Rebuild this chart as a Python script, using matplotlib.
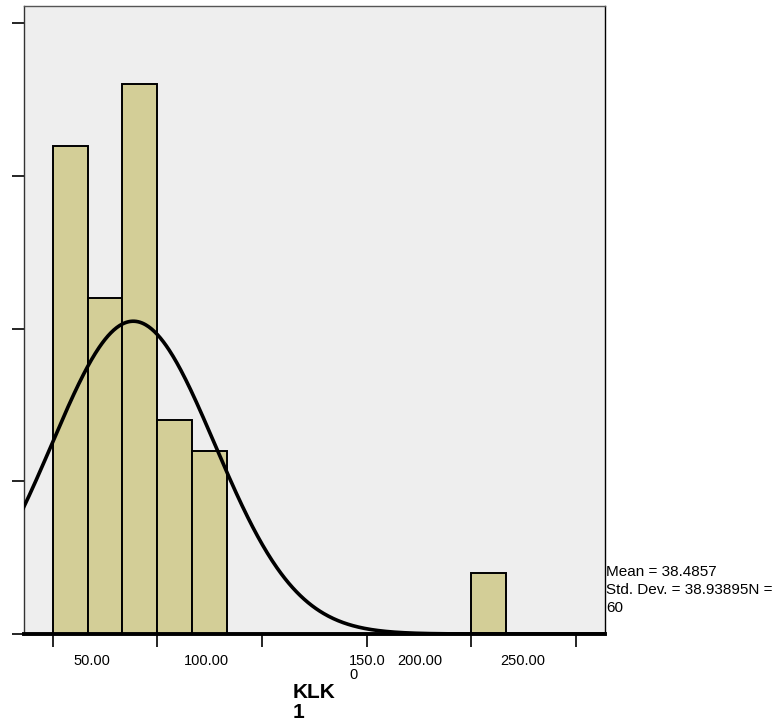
import numpy as np
import matplotlib.pyplot as plt

# histogram of KLK1 (counts per bin, bin width 50/3)
bin_lefts = [0.0, 16.667, 33.333, 50.0, 66.667, 200.0]
counts = [16, 11, 18, 7, 6, 2]
bin_width = 50 / 3

mean = 38.4857
std = 38.93895
n = 60

x_ticks = [0, 50, 100, 150, 200, 250]
# SPSS put the labels slightly off the ticks
x_labels = ["50.00", "100.00", "150.0\n0", "200.00", "250.00"]
x_label_pos = [18.6, 73.2, 141.6, 164.6, 224.7]
x_label_ha = ["center", "center", "left", "left", "center"]
y_ticks = [0, 5, 10, 15, 20]

plt.rcParams['font.family'] = ['Liberation Sans', 'DejaVu Sans']

fig = plt.figure(figsize=(7.74, 7.23), dpi=100)
ax = fig.add_axes([24 / 774, (723 - 634) / 723, (605.3 - 24) / 774, (634 - 5.7) / 723])
ax.set_facecolor("#EEEEEE")

ax.bar(bin_lefts, counts, width=bin_width, align="edge",
       color="#D3CE97", edgecolor="black", linewidth=1.4, zorder=2)

xs = np.linspace(-14, 264, 600)
ys = n * bin_width * np.exp(-0.5 * ((xs - mean) / std) ** 2) / (std * np.sqrt(2 * np.pi))
ax.plot(xs, ys, color="black", linewidth=2.6, zorder=3)

ax.set_xlim(-13.7, 263.9)
ax.set_ylim(0, 20.58)
ax.set_xticks(x_ticks)
ax.set_xticklabels([])
ax.set_yticks(y_ticks)
ax.set_yticklabels([])
ax.tick_params(axis="both", direction="out", length=9, width=1.2, color="black")

for side in ["top", "right", "left"]:
    ax.spines[side].set_linewidth(1.0)
ax.spines["top"].set_color("#555555")
ax.spines["left"].set_color("#333333")
ax.spines["right"].set_color("black")
ax.spines["bottom"].set_linewidth(2.8)

# x labels placed in data coords below the axis
for lab, xp, ha in zip(x_labels, x_label_pos, x_label_ha):
    ax.text(xp, -0.66, lab, ha=ha, va="top", fontsize=10.5, transform=ax.transData,
            linespacing=1.0)

fig.text(293 / 774, 1 - 683 / 723, "KLK\n1", fontsize=15, fontweight="bold",
         ha="left", va="top", linespacing=1.05)

fig.text(606 / 774, 1 - 565 / 723,
         "Mean = %.4f\nStd. Dev. = %.5fN =\n%d" % (mean, std, n),
         fontsize=11, ha="left", va="top", linespacing=1.38)

fig.savefig("out.png", dpi=100)
